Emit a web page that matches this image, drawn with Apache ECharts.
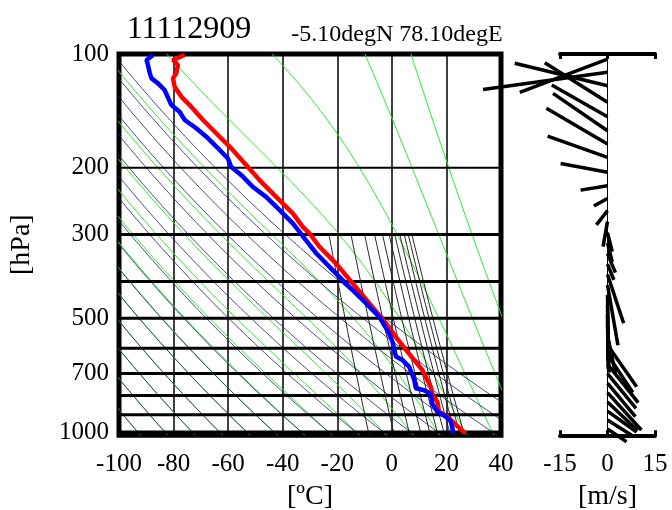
<!DOCTYPE html>
<html><head><meta charset="utf-8">
<script src="https://cdn.jsdelivr.net/npm/echarts@6/dist/echarts.min.js"></script>
<style>html,body{margin:0;padding:0;background:#fff}#c{width:672px;height:510px}</style>
</head><body><div id="c"></div>
<script>
// ---------- data ----------
const tempP = [100.6,103.7,106.9,112.5,116,122,129.8,136.5,149.5,165.5,179.4,196.6,215.5,238.7,264,286,298,323,358,404,456,515,561,620,686,760,792,832,884,910,956,1000,1008];
const tempT = [-75.9,-80.2,-78.4,-79.0,-80.2,-79.6,-77.1,-74.1,-69.2,-63.1,-58.3,-53.4,-48.5,-42.4,-36.3,-32.7,-30.2,-26.6,-20.5,-14.4,-8.3,-2.2,1.5,6.3,11.2,14.3,14.8,16.7,17.3,20.3,23.4,26.4,27.0];
const dewP = [100.6,103.7,106.9,112.5,116,119.6,124.5,136.5,142.2,149.5,157.2,165.5,179.4,188.9,198.7,211,224.4,238.7,258.5,280.5,295,307,336,373,413,456,496,548,576,631,645,671,728,766,775,792,841,884,910,937,977,1008];
const dewT = [-87.5,-89.9,-89.4,-88.7,-88.1,-85.7,-83.3,-80.8,-77.8,-75.9,-71.7,-68.0,-63.1,-60.1,-58.9,-54.6,-51.0,-46.1,-41.2,-36.3,-33.9,-32.1,-27.8,-21.7,-15.6,-9.5,-4.6,-1.0,0.2,1.5,3.9,6.3,8.2,8.8,11.8,14.3,14.8,16.7,19.7,21.6,22.2,22.4];
const windP = [103.1,111.8,121.3,134.2,146.5,159.6,173.0,187.6,205.6,223.0,241.0,259.5,277.6,296.7,316.2,337.2,359.4,383.1,408.4,434.1,461.3,490.3,521.2,553.8,588.6,623.7,660.9,700.3,742,786.4,833,880,929.6,982];
const windU = [-27.7,-39.3,-29.3,-19.8,-17.6,-17.2,-19.3,-18.9,-14.8,-8.5,-4.3,-3.5,-1.4,1.5,1.5,2.5,2.0,5.1,3.3,0.3,0.2,0.2,0.5,2.5,9.2,8.0,9.7,9.0,8.8,10.7,9.5,9.2,8.0,6.0];
const windV = [-10.5,-5.4,7.1,12.5,10.0,11.8,11.3,6.7,2.8,-1.4,-2.4,-4.5,-7.9,-6.0,-6.0,-6.0,-5.0,-15.4,-19.0,-17.0,-18.0,-17.0,-15.0,-12.0,-13.2,-12.0,-12.2,-11.0,-10.6,-11.8,-9.0,-6.6,-5.0,-4.0];
const dryThetaK = [180,190,200,210,220,230,240,250,260,270,280,290,300,310,320,330];
const moistThetaWK = [180,190,200,210,220,230,240,250,260,270,280,290,300,310,320,330];
const mixRatioGkg = [2,4,6,8,10,12,14,16,18,20,22];
const pressureLabels = [100,200,300,500,700,1000];
const pressureGrid = [200,300,400,500,600,700,800,900,1000];
const pressureGridWidth = [2,3,3,3,3,3,3,3,3];
const titleText = '11112909';
const subtitleText = '-5.10degN 78.10degE';

// ---------- helpers ----------
const L = Math.log10;
const Rd = 287.04, cp = 1005.7, Lv = 2.501e6, eps = 0.622, kap = Rd / cp;
const pTop = 100, pBot = 1020;
function es(Tk){ const c = Tk - 273.15; return 6.112 * Math.exp(17.67 * c / (c + 243.5)); }
function dTdlnp(T, p){ const e = es(T); const rs = eps * e / (p - e); return (Rd * T + Lv * rs) / (cp + Lv * Lv * rs * eps / (Rd * T * T)); }
function logPs(p0, p1, n){ const a = []; for (let i = 0; i <= n; i++) a.push(Math.exp(Math.log(p0) + (Math.log(p1) - Math.log(p0)) * i / n)); return a; }
function dryLine(th){ return logPs(pTop, pBot, 120).map(p => [th * Math.pow(p / 1000, kap) - 273.15, L(p)]); }
function moistLine(tw){
  function integ(pEnd, n){
    let T = tw, lp = Math.log(1000); const h = (Math.log(pEnd) - lp) / n; const pts = [];
    for (let i = 0; i < n; i++){
      const p = Math.exp(lp);
      const k1 = dTdlnp(T, p), k2 = dTdlnp(T + h*k1/2, Math.exp(lp + h/2)), k3 = dTdlnp(T + h*k2/2, Math.exp(lp + h/2)), k4 = dTdlnp(T + h*k3, Math.exp(lp + h));
      T += h * (k1 + 2*k2 + 2*k3 + k4) / 6; lp += h; pts.push([T - 273.15, lp / Math.LN10]);
    }
    return pts;
  }
  return integ(pTop, 200).reverse().concat([[tw - 273.15, 3]], integ(pBot, 5));
}
function mixLine(wg){ const w = wg / 1000; return logPs(300, pBot, 60).map(p => { const e = w * p / (eps + w); const g = Math.log(e / 6.112); return [243.5 * g / (17.67 - g), L(p)]; }); }

// ---------- chart ----------
const font = 'Liberation Serif';
const series = [];
const lineBase = { type: 'line', xAxisIndex: 0, yAxisIndex: 0, symbol: 'none', silent: true, clip: true, animation: false };
moistThetaWK.forEach(t => series.push(Object.assign({}, lineBase, { data: moistLine(t), lineStyle: { color: '#22ee22', width: 1 }, z: 2 })));
dryThetaK.forEach(t => series.push(Object.assign({}, lineBase, { data: dryLine(t), lineStyle: { color: '#2a2a6e', width: 1, opacity: 0.85 }, z: 3 })));
mixRatioGkg.forEach(w => series.push(Object.assign({}, lineBase, { data: mixLine(w), lineStyle: { color: '#222', width: 1 }, z: 3 })));
pressureGrid.forEach((p, i) => series.push(Object.assign({}, lineBase, { data: [[-100, L(p)], [40, L(p)]], lineStyle: { color: '#000', width: pressureGridWidth[i] }, z: 4 })));
series.push(Object.assign({}, lineBase, { data: tempP.map((p, i) => [tempT[i], L(p)]), lineStyle: { color: '#ff0000', width: 4.5 }, z: 6 }));
series.push(Object.assign({}, lineBase, { data: dewP.map((p, i) => [dewT[i], L(p)]), lineStyle: { color: '#0000ff', width: 4.5 }, z: 7 }));
series.push({
  type: 'custom', xAxisIndex: 1, yAxisIndex: 1, clip: false, silent: true, animation: false, z: 8,
  data: windP.map((p, i) => [windU[i], windV[i], L(p)]),
  renderItem: function (params, api) {
    const u = api.value(0), v = api.value(1), lp = api.value(2);
    const b = api.coord([0, lp]);
    const s = api.size([1, 0])[0];
    return { type: 'line', shape: { x1: b[0], y1: b[1], x2: b[0] + u * s, y2: b[1] - v * s }, style: { stroke: '#000', lineWidth: 3.5, lineCap: 'butt' } };
  }
});

const chart = echarts.init(document.getElementById('c'), null, { renderer: 'canvas' });
const labelStyle = { color: '#000', fontFamily: font, fontSize: 25 };
const nameStyle = { color: '#000', fontFamily: font, fontSize: 28 };
chart.setOption({
  animation: false,
  backgroundColor: '#fff',
  title: [
    { text: titleText, left: 184, top: 9, textAlign: 'center', textStyle: { fontFamily: font, fontSize: 32, fontWeight: 'normal', color: '#000' } },
    { text: subtitleText, left: 392, top: 18, textAlign: 'center', textStyle: { fontFamily: font, fontSize: 24, fontWeight: 'normal', color: '#000' } }
  ],
  grid: [
    { left: 119, top: 54, width: 382, height: 381.3, show: true, borderWidth: 5, borderColor: '#000', backgroundColor: 'transparent', containLabel: false, outerBoundsMode: 'none' },
    { left: 560, top: 54, width: 95, height: 381.3, show: false, containLabel: false, outerBoundsMode: 'none' }
  ],
  xAxis: [
    { type: 'value', gridIndex: 0, min: -100, max: 40, interval: 20, name: '[ºC]', nameLocation: 'middle', nameGap: 44, nameTextStyle: nameStyle,
      axisLine: { show: false, onZero: false }, axisTick: { show: false }, axisLabel: Object.assign({ margin: 17 }, labelStyle),
      splitLine: { show: true, lineStyle: { color: '#000', width: 1.5 } } },
    { type: 'value', gridIndex: 1, min: -15, max: 15, interval: 15, name: '[m/s]', nameLocation: 'middle', nameGap: 44, nameTextStyle: nameStyle,
      axisLine: { show: true, onZero: false, lineStyle: { color: '#000', width: 4 } }, axisTick: { show: true, inside: true, length: 5, lineStyle: { color: '#000', width: 3 } },
      axisLabel: Object.assign({ margin: 17 }, labelStyle), splitLine: { show: false } },
    { type: 'value', gridIndex: 1, position: 'top', min: -15, max: 15, interval: 15,
      axisLine: { show: true, onZero: false, lineStyle: { color: '#000', width: 4 } }, axisTick: { show: true, inside: true, length: 5, lineStyle: { color: '#000', width: 3 } },
      axisLabel: { show: false }, splitLine: { show: false } }
  ],
  yAxis: [
    { type: 'value', gridIndex: 0, min: L(pTop), max: L(pBot), inverse: true, name: '[hPa]', nameLocation: 'middle', nameGap: 83, nameRotate: 90, nameTextStyle: nameStyle,
      axisLine: { show: false, onZero: false }, axisTick: { show: false }, splitLine: { show: false },
      axisLabel: Object.assign({ margin: 10, customValues: pressureLabels.map(L), formatter: v => String(Math.round(Math.pow(10, v))) }, labelStyle) },
    { type: 'value', gridIndex: 1, min: L(pTop), max: L(pBot), inverse: true,
      axisLine: { show: true, onZero: true, lineStyle: { color: '#000', width: 1 } }, axisTick: { show: false }, axisLabel: { show: false }, splitLine: { show: false } }
  ],
  series: series
});
</script></body></html>
